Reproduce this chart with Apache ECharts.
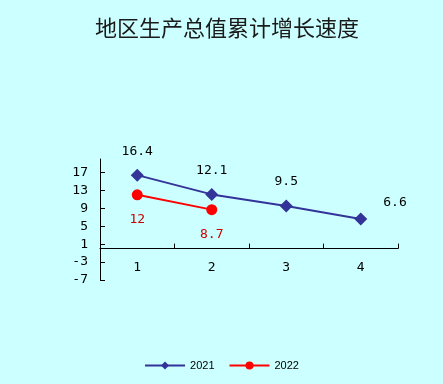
<!DOCTYPE html>
<html>
<head>
<meta charset="utf-8">
<script src="https://cdn.jsdelivr.net/npm/echarts@6/dist/echarts.min.js"></script>
<style>html,body{margin:0;padding:0;background:#ccffff;}#c{width:443px;height:384px;}</style>
</head>
<body>
<div id="c"></div>
<script>
var titleText = '地区生产总值累计增长速度';
var categories = ['1', '2', '3', '4'];
var seriesNames = ['2021', '2022'];
var values2021 = [16.4, 12.1, 9.5, 6.6];
var values2022 = [12, 8.7, null, null];
var yMin = -7, yMax = 20, yStep = 4;

var numFont = '"DejaVu Sans Mono", monospace';

var data2021 = values2021.map(function (v, i) {
  if (i === values2021.length - 1) {
    return { value: v, label: { position: 'right', distance: 16, offset: [0, -16] } };
  }
  return v;
});

var chart = echarts.init(document.getElementById('c'), null, { renderer: 'canvas' });
chart.setOption({
  backgroundColor: '#ccffff',
  animation: false,
  title: {
    text: titleText,
    left: 90,
    top: 12,
    textStyle: { fontFamily: '"Noto Sans CJK SC", sans-serif', fontSize: 22, fontWeight: 'normal', color: '#1a1a1a' }
  },
  legend: {
    bottom: 8,
    left: 'center',
    itemWidth: 40,
    itemHeight: 10,
    itemGap: 14,
    textStyle: { fontFamily: '"Liberation Sans", Arial, sans-serif', fontSize: 11, color: '#000' },
    data: seriesNames
  },
  grid: { left: 100, right: 45, top: 159, bottom: 104, containLabel: false },
  xAxis: {
    type: 'category',
    data: categories,
    boundaryGap: true,
    axisLine: { show: true, onZero: true, lineStyle: { color: '#000', width: 1 } },
    axisTick: { show: true, inside: true, length: 5, interval: 0, lineStyle: { color: '#000', width: 1 } },
    axisLabel: { margin: -19, color: '#000', fontFamily: numFont, fontSize: 13 },
    splitLine: { show: false }
  },
  yAxis: {
    type: 'value',
    min: yMin,
    max: yMax,
    interval: yStep,
    axisLine: { show: true, lineStyle: { color: '#000', width: 1 } },
    axisTick: { show: true, inside: true, length: 5, lineStyle: { color: '#000', width: 1 } },
    axisLabel: { margin: 12, color: '#000', fontFamily: numFont, fontSize: 13, showMaxLabel: false },
    splitLine: { show: false }
  },
  series: [
    {
      name: seriesNames[0],
      type: 'line',
      data: data2021,
      symbol: 'diamond',
      symbolSize: 13,
      color: '#333399',
      lineStyle: { color: '#333399', width: 2 },
      itemStyle: { color: '#333399' },
      label: { show: true, position: 'top', distance: 11, color: '#000', fontFamily: numFont, fontSize: 13 }
    },
    {
      name: seriesNames[1],
      type: 'line',
      data: values2022,
      symbol: 'circle',
      symbolSize: 11,
      color: '#ff0000',
      lineStyle: { color: '#ff0000', width: 2 },
      itemStyle: { color: '#ff0000' },
      label: { show: true, position: 'bottom', distance: 13, color: '#cc0000', fontFamily: numFont, fontSize: 13 }
    }
  ]
});
</script>
</body>
</html>
